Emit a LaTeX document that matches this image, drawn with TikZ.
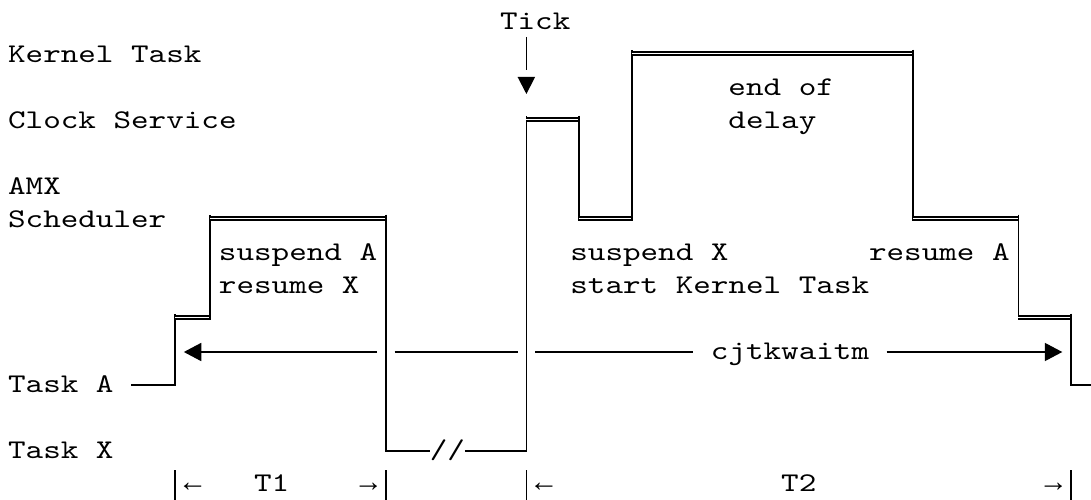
\documentclass[tikz,border=0pt]{standalone}
\usepackage{graphicx}
\usepackage{fontspec}
\setmainfont{Liberation Mono}
\newfontfamily\cour{lmmono10-regular.otf}
\usetikzlibrary{arrows.meta}
\tikzset{
  lbl/.style={anchor=base west, inner sep=0pt, outer sep=0pt, font=\cour\fontsize{27}{33}\selectfont},
  arr/.style={anchor=base west, inner sep=0pt, outer sep=0pt, font=\rmfamily\fontsize{29.3}{33}\selectfont},
  wire/.style={line width=1.8pt, black},
  dbl/.style={double=white, draw=black, line width=1.5pt, double distance=1.6pt},
  tipA/.style={-{Triangle[length=17.5pt,width=18pt]}}
}
\newcommand\lab[4]{\node[lbl] (#1) at ({8.1+#2*17.57},{29.5+#3*33}) {\scalebox{1.24}[1]{#4}};}
\newcommand\arrlab[4]{\node[arr] (#1) at ({8.1+#2*17.57},{29.5+#3*33}) {#4};}
\begin{document}
\begin{tikzpicture}[x=1pt,y=-1pt]
\useasboundingbox[fill=white] (0,0) rectangle (1091,500);
% labels
\lab{kt}{0}{1}{Kernel Task}
\lab{cs}{0}{3}{Clock Service}
\lab{amx}{0}{5}{AMX}
\lab{sch}{0}{6}{Scheduler}
\lab{ta}{0}{11}{Task A}
\lab{tx}{0}{13}{Task X}
\lab{tick}{28}{0}{Tick}
\lab{susA}{12}{7}{suspend A}
\lab{resX}{12}{8}{resume X}
\lab{eof}{41}{2}{end of}
\lab{dly}{41}{3}{delay}
\lab{susX}{32}{7}{suspend X}
\lab{skt}{32}{8}{start Kernel Task}
\lab{resA}{49}{7}{resume A}
\lab{cjt}{40}{10}{cjtkwaitm}
\lab{brk}{24}{13}{//}
\arrlab{la1}{10}{14}{←}
\lab{t1}{14}{14}{T1}
\arrlab{ra1}{20}{14}{→}
\arrlab{la2}{30}{14}{←}
\lab{t2}{44}{14}{T2}
\arrlab{ra2}{59}{14}{→}
% waveform
\draw[wire] (131.1,385) -| (175.0,313.7);
\draw[dbl] (175.0,317.5) -- (210.2,317.5);
\draw[wire] (210.2,319.8) -- (210.2,214.7);
\draw[dbl] (210.2,218.5) -- (385.9,218.5);
\draw[wire] (385.9,214.7) |- (429.8,451);
\draw[wire] (464.9,451) -| (526.4,115.7);
\draw[dbl] (526.4,119.5) -- (579.1,119.5);
\draw[wire] (579.1,115.7) -- (579.1,220.8);
\draw[dbl] (579.1,218.5) -- (631.8,218.5);
\draw[wire] (631.8,220.8) -- (631.8,49.7);
\draw[dbl] (631.8,53.5) -- (913.0,53.5);
\draw[wire] (913.0,49.7) -- (913.0,220.8);
\draw[dbl] (913.0,218.5) -- (1018.4,218.5);
\draw[wire] (1018.4,214.7) -- (1018.4,319.8);
\draw[dbl] (1018.4,317.5) -- (1071.1,317.5);
\draw[wire] (1071.1,313.7) |- (1092,385);
% cjtkwaitm arrow
\coordinate (aL0) at (377.1,352);
\coordinate (aL1) at (183.8,352);
\coordinate (aR0) at (886.6,352);
\coordinate (aR1) at (1062.3,352);
\draw[wire,tipA] (aL0) -- (aL1);
\draw[wire] (394.6,352) -- (517.6,352);
\draw[wire] (535.1,352) -- (693.3,352);
\draw[wire,tipA] (aR0) -- (aR1);
% tick
\draw[wire] (526.4,37) -- (526.4,70);
\fill (517.6,77) -- (535.1,77) -- (526.4,94) -- cycle;
% time bars
\foreach \xx in {175.0,385.9,526.4,1071.1} \draw[wire] (\xx,470) -- (\xx,500);
\end{tikzpicture}
\end{document}
